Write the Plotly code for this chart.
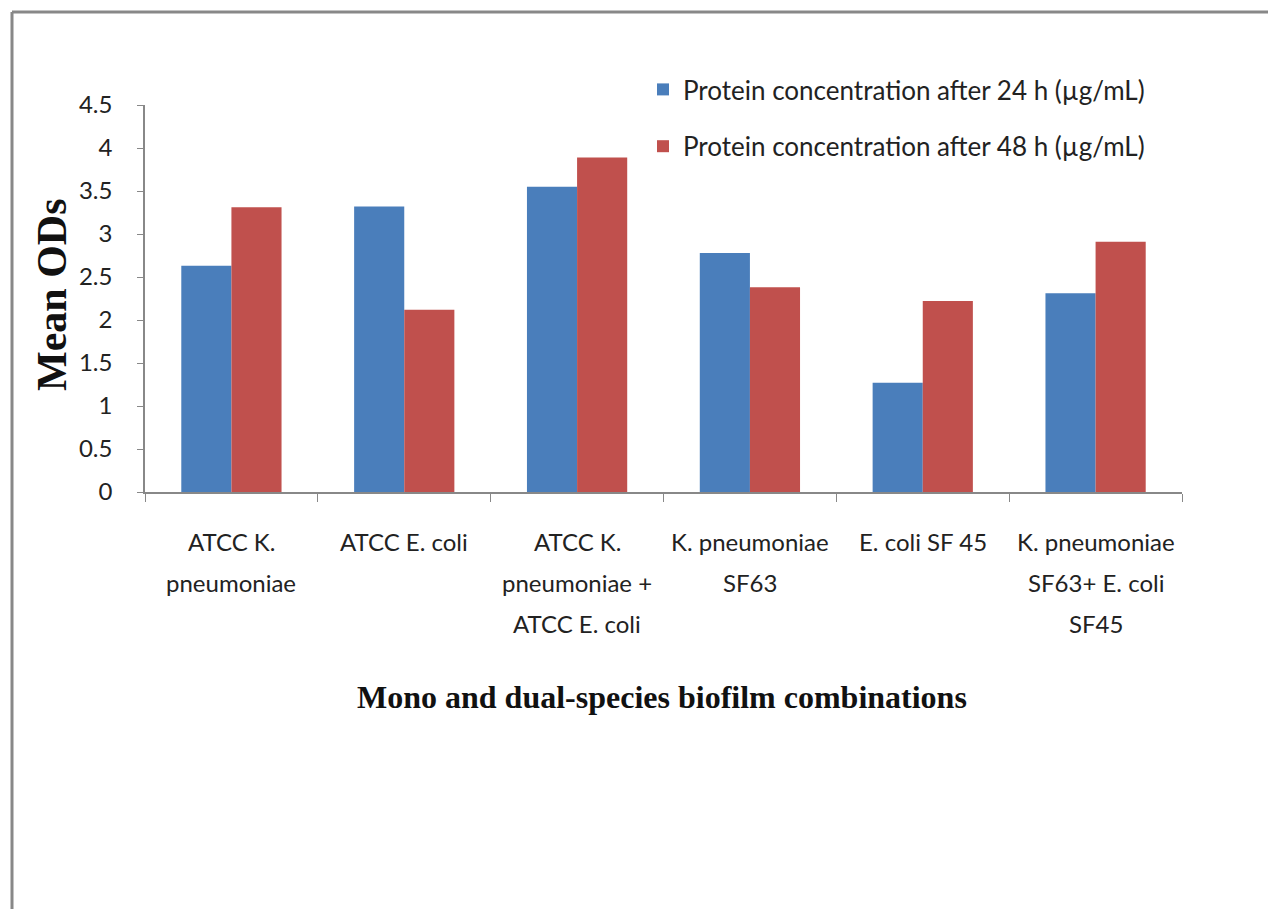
import plotly.graph_objects as go

categories = [
    "ATCC K.<br>pneumoniae",
    "ATCC E. coli",
    "ATCC K.<br>pneumoniae +<br>ATCC E. coli",
    "K. pneumoniae<br>SF63",
    "E. coli SF 45",
    "K. pneumoniae<br>SF63+ E. coli<br>SF45",
]
protein_24h = [2.63, 3.32, 3.55, 2.78, 1.27, 2.31]
protein_48h = [3.31, 2.12, 3.89, 2.38, 2.22, 2.91]
series_names = [
    "Protein concentration after 24 h (µg/mL)",
    "Protein concentration after 48 h (µg/mL)",
]
y_ticks = [0, 0.5, 1, 1.5, 2, 2.5, 3, 3.5, 4, 4.5]

W, H = 1276, 909
L, R, T, B = 145, 94, 105, 417
pw, ph = W - L - R, H - T - B

def px_x(px):
    return (px - L) / pw

def px_y(py):
    return (H - B - py) / ph

sans = "Lato, Open Sans, sans-serif"
serif = "Liberation Serif, Times New Roman, serif"

fig = go.Figure()
fig.add_trace(go.Bar(x=categories, y=protein_24h, name=series_names[0],
                     marker=dict(color="#4A7EBB", line=dict(width=0)), legendgroup="a"))
fig.add_trace(go.Bar(x=categories, y=protein_48h, name=series_names[1],
                     marker=dict(color="#C0504D", line=dict(width=0)), legendgroup="b"))

# category labels drawn line by line to match the wide line spacing of the original
label_annotations = []
for cat in categories:
    for i, line in enumerate(cat.split("<br>")):
        label_annotations.append(dict(
            text=line, xref="x", yref="paper", x=cat, y=px_y(541 + 41 * i),
            showarrow=False, xanchor="center", yanchor="middle",
            font=dict(family=sans, size=24, color="#222")))

fig.update_layout(
    width=W, height=H,
    margin=dict(l=L, r=R, t=T, b=B, autoexpand=False),
    paper_bgcolor="white", plot_bgcolor="white",
    barmode="group", bargap=0.42, bargroupgap=0,
    font=dict(family=sans, color="#222", size=22),
    showlegend=True,
    legend=dict(x=px_x(643), y=px_y(66), xanchor="left", yanchor="top",
                font=dict(family=sans, size=26, color="#222"),
                bgcolor="rgba(0,0,0,0)", tracegroupgap=20, itemwidth=30),
    xaxis=dict(type="category", showline=True, linecolor="#888", linewidth=1.5,
               ticks="outside", tickson="boundaries", ticklen=8, tickcolor="#888",
               showticklabels=False, showgrid=False, zeroline=False),
    yaxis=dict(range=[0, 4.5], tickvals=y_ticks, showline=True, linecolor="#888",
               linewidth=1.5, ticks="outside", ticklen=6, tickcolor="#888",
               tickfont=dict(family=sans, size=24, color="#222"),
               ticklabelstandoff=20, showgrid=False, zeroline=False),
    annotations=label_annotations + [
        dict(text="<b>Mean ODs</b>", xref="paper", yref="paper",
             x=px_x(52), y=px_y(295), textangle=-90, showarrow=False,
             font=dict(family=serif, size=42, color="#111"),
             xanchor="center", yanchor="middle"),
        dict(text="<b>Mono and dual-species biofilm combinations</b>", xref="paper",
             yref="paper", x=px_x(662), y=px_y(697), showarrow=False,
             font=dict(family=serif, size=32, color="#111"),
             xanchor="center", yanchor="middle"),
    ],
    shapes=[
        dict(type="line", xref="paper", yref="paper", x0=px_x(12), x1=px_x(12),
             y0=px_y(12), y1=px_y(909), line=dict(color="#888", width=3)),
        dict(type="line", xref="paper", yref="paper", x0=px_x(12), x1=px_x(1268),
             y0=px_y(12), y1=px_y(12), line=dict(color="#888", width=3)),
    ],
)

fig.write_html("out.html")
